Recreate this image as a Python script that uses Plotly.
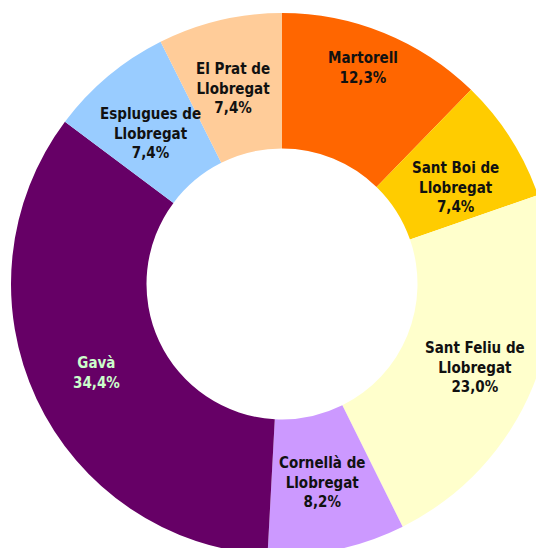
import math
import plotly.graph_objects as go

# ---- data ----
municipalities = ["Martorell", "Sant Boi de<br>Llobregat", "Sant Feliu de<br>Llobregat",
                  "Cornellà de<br>Llobregat", "Gavà", "Esplugues de<br>Llobregat",
                  "El Prat de<br>Llobregat"]
shares = [12.3, 7.4, 23.0, 8.2, 34.4, 7.4, 7.4]

# ---- style ----
colors = ["#FF6600", "#FFCC00", "#FFFFCC", "#CC99FF", "#660066", "#99CCFF", "#FFCC99"]
text_colors = ["#111111", "#111111", "#111111", "#111111", "#CCFFCC", "#111111", "#111111"]
label_radius = [0.86, 0.75, 0.77, 0.75, 0.76, 0.76, 0.75]  # fraction of outer radius
label_nudge = [(-7, 0), (2, 13), (0, 5), (-1, -1), (1, 2), (1, 7), (-2, 2)]  # px (right, down)
FONT = "Liberation Sans Narrow, Arial Narrow, DejaVu Sans Condensed, sans-serif"
W, H = 548, 552
R = 271          # outer radius in px
cx, cy = 274, 276  # donut centre in figure px (from top-left)
HOLE = 0.5

fig = go.Figure(go.Pie(
    labels=municipalities,
    values=shares,
    sort=False,
    direction="clockwise",
    rotation=0,
    hole=HOLE,
    domain=dict(x=[(cx - R) / W, (cx + R) / W], y=[(H - cy - R) / H, (H - cy + R) / H]),
    marker=dict(colors=colors, line=dict(width=0)),
    textinfo="none",
    showlegend=False,
    hoverinfo="label+percent",
))

# labels placed at slice mid-angles computed from the values
total = sum(shares)
cum = 0.0
annotations = []
for name, v, tc, lr, (nx, ny) in zip(municipalities, shares, text_colors, label_radius, label_nudge):
    mid = (cum + v / 2) / total * 2 * math.pi
    cum += v
    r = lr * R
    px = cx + r * math.sin(mid)
    py = cy - r * math.cos(mid)
    pct = f"{v:.1f}".replace(".", ",") + "%"
    annotations.append(dict(
        x=px / W, y=1 - py / H, xref="paper", yref="paper",
        xshift=nx, yshift=-ny,
        text=f"<b>{name}<br>{pct}</b>", showarrow=False,
        font=dict(family=FONT, size=15, color=tc),
        align="center", xanchor="center", yanchor="middle",
    ))

fig.update_layout(
    width=W, height=H,
    margin=dict(l=0, r=0, t=0, b=0),
    paper_bgcolor="white",
    plot_bgcolor="white",
    annotations=annotations,
)

fig.write_html("out.html")
